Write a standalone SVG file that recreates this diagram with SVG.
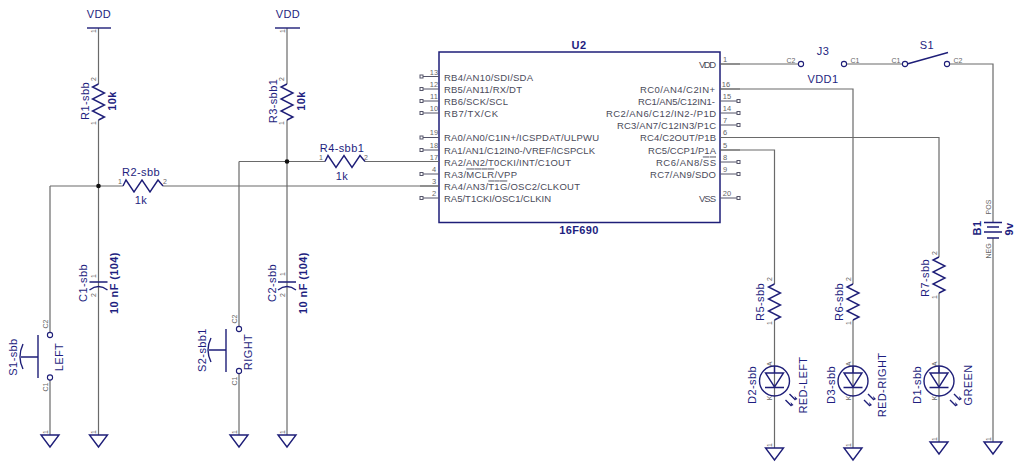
<svg xmlns="http://www.w3.org/2000/svg" width="1024" height="468" viewBox="0 0 1024 468">
<style>
text{font-family:"Liberation Sans",Arial,sans-serif}
.w{fill:none;stroke:#6a6a6a;stroke-width:1.2}
.b{fill:none;stroke:#1e1e78;stroke-width:1.4}
.p{fill:none;stroke:#55556a;stroke-width:1}
.o{fill:#fff;stroke:#1e1e78;stroke-width:1.1}
.l{fill:#1e1e80;font-size:11px;letter-spacing:.4px;text-anchor:middle}
.n{fill:#666;font-size:7px;text-anchor:middle}
.i{fill:#4a4a5a;font-size:9.5px}
</style>
<defs>
<path id="rv" class="b" d="M0 0L6-3-6-9 6-15-6-21 6-27-6-33 0-36"/>
<path id="rh" class="b" d="M0 0L3-6 11 6 19-6 27 6 35-6 40 0"/>
<path id="gnd" class="b" d="M-9 0H9L0 12Z"/>
<g id="led">
<circle class="b" r="15"/>
<path class="b" d="M-9-8H9L0 6ZM-9.500 6.500H9.500M0-15V-8"/>
<path class="b" d="M15 13L21 19M11 19L17 25" stroke-width="1"/>
<path fill="#1e1e78" d="M21 19l-1-4 3 3zM17 25l-1-4 3 3z"/>
</g>
<g id="cap">
<path class="b" d="M-9 0H9M-9 8Q0 1 9 8"/>
</g>
</defs>

<g id="connectors">
<path class="w" d="M98.500 28V84M98.500 120V435M50 186H123M163 186H439"/>
<path class="w" d="M50 186V332M50 380V435"/>
<path class="w" d="M287 28V84M287 120V435M239 161.500H325M365 161.500H439"/>
<path class="w" d="M239 161.500V326M239 374V435"/>
<path class="w" d="M720 64H798M847 64H902M950 64H993V222.500M993 238V442"/>
<path class="w" d="M720 89H853V284M853 320V448"/>
<path class="w" d="M720 137.500H939V257M939 293V442"/>
<path class="w" d="M720 150H774.500V284M774.500 320V448"/>
<circle cx="98.500" cy="186" r="2.300" fill="#111"/>
<circle cx="287" cy="161.500" r="2.300" fill="#111"/>
</g>

<g id="U2">
<rect x="439" y="52" width="281" height="170.500" fill="#fff" stroke="#1e1e78" stroke-width="1.500"/>
<text class="l" x="579" y="49" font-weight="bold">U2</text>
<text class="l" x="579" y="234" font-weight="bold">16F690</text>
<path class="p" d="M423 76.500H439M423 89H439M423 101H439M423 113H439M423 137.500H439M423 150H439M423 174H439M423 198H439M720 101H737M720 113H737M720 125H737M720 162H737M720 174H737M720 198H737"/>
<path class="w" d="M420 161.500H439M420 186H439M720 64H740M720 89H740M720 137.500H740M720 150H740"/>
<g fill="#fff" stroke="#55556a" stroke-width="1">
<rect x="420" y="75" width="3" height="3"/><rect x="420" y="87.500" width="3" height="3"/><rect x="420" y="99.500" width="3" height="3"/><rect x="420" y="111.500" width="3" height="3"/><rect x="420" y="136" width="3" height="3"/><rect x="420" y="148.500" width="3" height="3"/><rect x="420" y="172.500" width="3" height="3"/><rect x="420" y="196.500" width="3" height="3"/>
<rect x="737" y="99.500" width="3" height="3"/><rect x="737" y="111.500" width="3" height="3"/><rect x="737" y="123.500" width="3" height="3"/><rect x="737" y="160.500" width="3" height="3"/><rect x="737" y="172.500" width="3" height="3"/><rect x="737" y="196.500" width="3" height="3"/>
</g>
<g class="n" style="font-size:7.500px">
<text x="434" y="75">13</text><text x="434" y="87">12</text><text x="434" y="99">11</text><text x="434" y="111">10</text><text x="434" y="135">19</text><text x="434" y="148">18</text><text x="434" y="160">17</text><text x="434" y="172">4</text><text x="434" y="184">3</text><text x="434" y="196">2</text>
<text x="725" y="62">1</text><text x="726" y="87">16</text><text x="727" y="99">15</text><text x="727" y="111">14</text><text x="725" y="123">7</text><text x="725" y="135">6</text><text x="725" y="148">5</text><text x="725" y="160">8</text><text x="725" y="172">9</text><text x="727" y="196">20</text>
</g>
<g class="i">
<text x="444" y="80.500" textLength="89">RB4/AN10/SDI/SDA</text>
<text x="444" y="92.500" textLength="78">RB5/AN11/RX/DT</text>
<text x="444" y="104.500" textLength="64">RB6/SCK/SCL</text>
<text x="444" y="116.500" textLength="54">RB7/TX/CK</text>
<text x="444" y="141" textLength="155">RA0/AN0/C1IN+/ICSPDAT/ULPWU</text>
<text x="444" y="153.500" textLength="151">RA1/AN1/C12IN0-/VREF/ICSPCLK</text>
<text x="444" y="165.500" textLength="127">RA2/AN2/T0CKI/INT/C1OUT</text>
<text x="444" y="177.500" textLength="73">RA3/<tspan style="text-decoration:overline">MCLR</tspan>/VPP</text>
<text x="444" y="189.500" textLength="136">RA4/AN3/<tspan style="text-decoration:overline">T1G</tspan>/OSC2/CLKOUT</text>
<text x="444" y="201.500" textLength="107">RA5/T1CKI/OSC1/CLKIN</text>
<text x="699" y="68" textLength="17">VDD</text>
<text x="640" y="92.500" textLength="75">RC0/AN4/C2IN+</text>
<text x="638" y="104.500" textLength="77">RC1/AN5/C12IN1-</text>
<text x="606" y="116.500" textLength="110">RC2/AN6/C12/IN2-/P1D</text>
<text x="617" y="129" textLength="99">RC3/AN7/C12IN3/P1C</text>
<text x="640" y="141" textLength="76">RC4/C2OUT/P1B</text>
<text x="648" y="153.500" textLength="68">RC5/CCP1/P1A</text>
<text x="656" y="165.500" textLength="60">RC6/AN8/<tspan style="text-decoration:overline">SS</tspan></text>
<text x="650" y="177.500" textLength="66">RC7/AN9/SDO</text>
<text x="699" y="201.500" textLength="17">VSS</text>
</g>
</g>

<g id="VDD1">
<path class="b" d="M87 28H111"/><text class="l" x="99" y="18">VDD</text>
<text class="n" transform="rotate(-90 96 31)" x="96" y="31">1</text>
</g>
<g id="VDD2">
<path class="b" d="M275 28H300"/><text class="l" x="288" y="18">VDD</text>
<text class="n" transform="rotate(-90 285 31)" x="285" y="31">1</text>
</g>

<g id="R1"><use href="#rv" x="98.500" y="120"/>
<text class="l" transform="rotate(-90 89 101)" x="89" y="101">R1-sbb</text>
<text class="l" font-weight="bold" transform="rotate(-90 116 101)" x="116" y="101">10k</text>
<text class="n" transform="rotate(-90 96 79)" x="96" y="79">2</text><text class="n" transform="rotate(-90 96 123)" x="96" y="123">1</text></g>
<g id="R2"><use href="#rh" x="123" y="186"/>
<text class="l" x="141" y="176">R2-sbb</text><text class="l" x="141" y="204">1k</text>
<text class="n" x="120" y="184">1</text><text class="n" x="165" y="184">2</text></g>
<g id="R3"><use href="#rv" x="287" y="120"/>
<text class="l" transform="rotate(-90 277 101)" x="277" y="101">R3-sbb1</text>
<text class="l" font-weight="bold" transform="rotate(-90 305 101)" x="305" y="101">10k</text>
<text class="n" transform="rotate(-90 284 79)" x="284" y="79">2</text><text class="n" transform="rotate(-90 284 123)" x="284" y="123">1</text></g>
<g id="R4"><use href="#rh" x="325" y="161.500"/>
<text class="l" x="342" y="152">R4-sbb1</text><text class="l" x="342" y="180">1k</text>
<text class="n" x="321" y="160">1</text><text class="n" x="366" y="160">2</text></g>

<g id="C1"><use href="#cap" x="98.500" y="282"/>
<text class="l" transform="rotate(-90 87 283)" x="87" y="283">C1-sbb</text>
<text class="l" font-weight="bold" transform="rotate(-90 118 283)" x="118" y="283">10 nF  (104)</text>
<text class="n" transform="rotate(-90 96 276)" x="96" y="276">1</text><text class="n" transform="rotate(-90 96 295)" x="96" y="295">2</text></g>
<g id="C2"><use href="#cap" x="287" y="282"/>
<text class="l" transform="rotate(-90 276 283)" x="276" y="283">C2-sbb</text>
<text class="l" font-weight="bold" transform="rotate(-90 307 283)" x="307" y="283">10 nF  (104)</text>
<text class="n" transform="rotate(-90 285 274)" x="285" y="274">1</text><text class="n" transform="rotate(-90 285 295)" x="285" y="295">2</text></g>

<g id="S1-sbb">
<path class="b" d="M38 335V378M21 357H38M23 344Q17 357 23 369"/>
<circle class="o" cx="50" cy="335" r="2.600"/><circle class="o" cx="50" cy="377.500" r="2.600"/>
<text class="l" transform="rotate(-90 17 357)" x="17" y="357">S1-sbb</text>
<text class="l" transform="rotate(-90 63 357)" x="63" y="357">LEFT</text>
<text class="n" transform="rotate(-90 48 324)" x="48" y="324">C2</text><text class="n" transform="rotate(-90 48 387)" x="48" y="387">C1</text>
</g>
<g id="S2-sbb">
<path class="b" d="M226 329V372M209 350H226M211 338Q205 350 211 362"/>
<circle class="o" cx="239" cy="329" r="2.600"/><circle class="o" cx="239" cy="371" r="2.600"/>
<text class="l" transform="rotate(-90 206 350)" x="206" y="350">S2-sbb1</text>
<text class="l" transform="rotate(-90 252 352)" x="252" y="352">RIGHT</text>
<text class="n" transform="rotate(-90 237 319)" x="237" y="319">C2</text><text class="n" transform="rotate(-90 237 381)" x="237" y="381">C1</text>
</g>

<g id="GND1"><use href="#gnd" x="50" y="435"/><text class="n" transform="rotate(-90 48 432)" x="48" y="432">1</text></g>
<g id="GND2"><use href="#gnd" x="98.500" y="435"/><text class="n" transform="rotate(-90 96 432)" x="96" y="432">1</text></g>
<g id="GND3"><use href="#gnd" x="239" y="435"/><text class="n" transform="rotate(-90 237 432)" x="237" y="432">1</text></g>
<g id="GND4"><use href="#gnd" x="287" y="435"/><text class="n" transform="rotate(-90 285 432)" x="285" y="432">1</text></g>
<g id="GND5"><use href="#gnd" x="774.500" y="448"/><text class="n" transform="rotate(-90 772 445)" x="772" y="445">1</text></g>
<g id="GND6"><use href="#gnd" x="853" y="448"/><text class="n" transform="rotate(-90 851 445)" x="851" y="445">1</text></g>
<g id="GND7"><use href="#gnd" x="939" y="442"/><text class="n" transform="rotate(-90 937 439)" x="937" y="439">1</text></g>
<g id="GND8"><use href="#gnd" x="993" y="442"/><text class="n" transform="rotate(-90 991 439)" x="991" y="439">1</text></g>

<g id="R5"><use href="#rv" x="774.500" y="320"/>
<text class="l" transform="rotate(-90 764 302)" x="764" y="302">R5-sbb</text>
<text class="n" transform="rotate(-90 772 279)" x="772" y="279">2</text><text class="n" transform="rotate(-90 772 323)" x="772" y="323">1</text></g>
<g id="R6"><use href="#rv" x="853" y="320"/>
<text class="l" transform="rotate(-90 843 302)" x="843" y="302">R6-sbb</text>
<text class="n" transform="rotate(-90 851 279)" x="851" y="279">2</text><text class="n" transform="rotate(-90 851 323)" x="851" y="323">1</text></g>
<g id="R7"><use href="#rv" x="939" y="293"/>
<text class="l" transform="rotate(-90 929 278)" x="929" y="278">R7-sbb</text>
<text class="n" transform="rotate(-90 937 253)" x="937" y="253">2</text><text class="n" transform="rotate(-90 937 297)" x="937" y="297">1</text></g>

<g id="D2"><use href="#led" x="774.500" y="381"/>
<text class="l" transform="rotate(-90 756 385)" x="756" y="385">D2-sbb</text>
<text class="l" transform="rotate(-90 807 385)" x="807" y="385">RED-LEFT</text>
<text class="n" transform="rotate(-90 772 364)" x="772" y="364">A</text><text class="n" transform="rotate(-90 772 398)" x="772" y="398">K</text></g>
<g id="D3"><use href="#led" x="853" y="381"/>
<text class="l" transform="rotate(-90 835 385)" x="835" y="385">D3-sbb</text>
<text class="l" transform="rotate(-90 886 385)" x="886" y="385">RED-RIGHT</text>
<text class="n" transform="rotate(-90 851 364)" x="851" y="364">A</text><text class="n" transform="rotate(-90 851 398)" x="851" y="398">K</text></g>
<g id="D1"><use href="#led" x="939" y="381"/>
<text class="l" transform="rotate(-90 921 385)" x="921" y="385">D1-sbb</text>
<text class="l" transform="rotate(-90 972 385)" x="972" y="385">GREEN</text>
<text class="n" transform="rotate(-90 937 364)" x="937" y="364">A</text><text class="n" transform="rotate(-90 937 398)" x="937" y="398">K</text></g>

<g id="J3">
<circle class="o" cx="801" cy="64" r="2.600"/><circle class="o" cx="844" cy="64" r="2.600"/>
<text class="l" x="823" y="55">J3</text><text class="l" x="823" y="83">VDD1</text>
<text class="n" x="791" y="63">C2</text><text class="n" x="855" y="63">C1</text>
</g>
<g id="S1">
<path class="b" d="M907 64L948 52.500"/>
<circle class="o" cx="905" cy="64" r="2.600"/><circle class="o" cx="947" cy="64" r="2.600"/>
<text class="l" x="927" y="49">S1</text>
<text class="n" x="896" y="63">C1</text><text class="n" x="958" y="63">C2</text>
</g>
<g id="B1">
<path class="b" d="M984 222.500H1002M987 227H999M984 232H1002M987 238H999"/>
<text class="l" font-weight="bold" transform="rotate(-90 981 228)" x="981" y="228">B1</text>
<text class="l" font-weight="bold" transform="rotate(-90 1013 229)" x="1013" y="229">9v</text>
<text class="n" transform="rotate(-90 991 207)" x="991" y="207">POS</text>
<text class="n" transform="rotate(-90 991 251)" x="991" y="251">NEG</text>
</g>
</svg>
